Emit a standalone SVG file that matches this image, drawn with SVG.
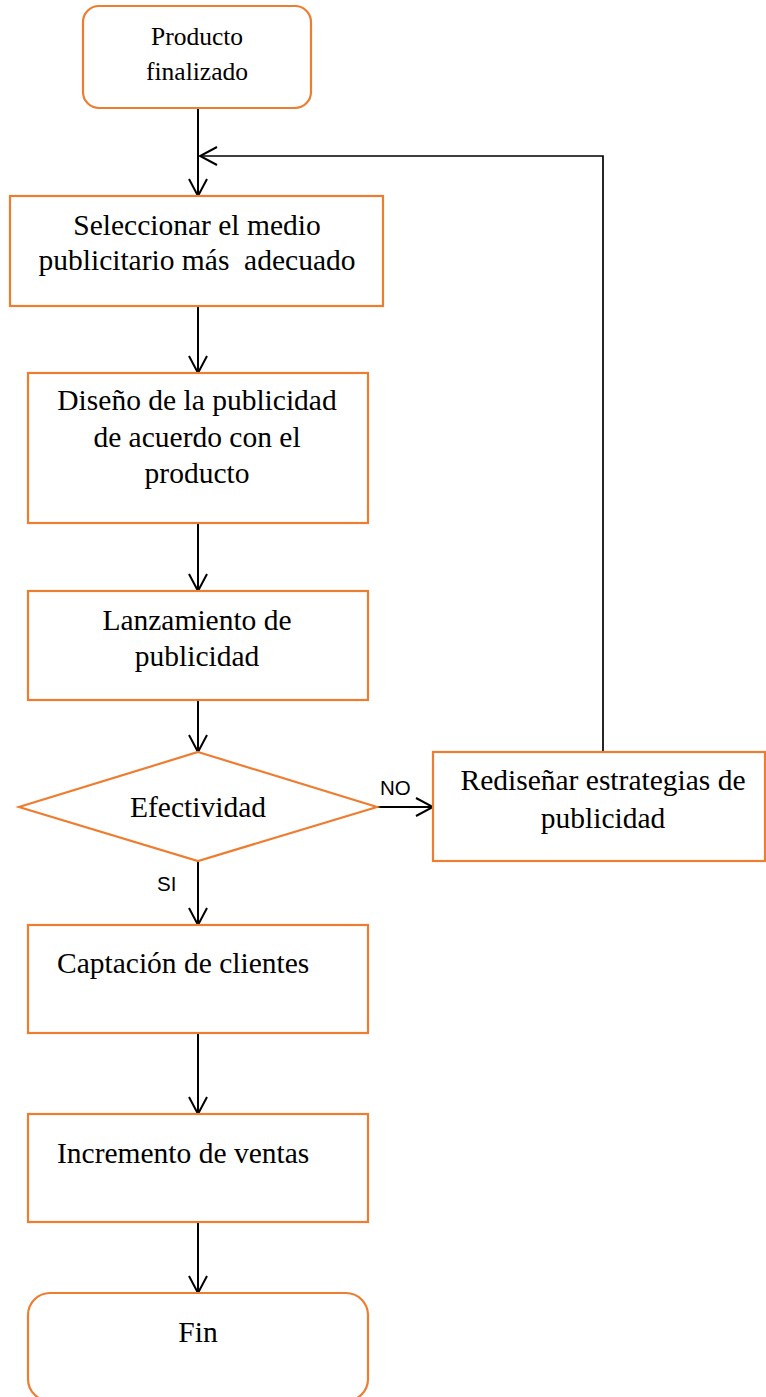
<svg xmlns="http://www.w3.org/2000/svg" width="766" height="1397" viewBox="0 0 766 1397">
<defs>
<style>
.box{fill:#fff;stroke:#ED7D31;stroke-width:2.2}
.t{font-family:"Liberation Serif","Times New Roman",serif;font-size:29.5px;fill:#000;text-anchor:middle}
.ts{font-family:"Liberation Serif","Times New Roman",serif;font-size:29.5px;fill:#000}
.lbl{font-family:"Liberation Sans",Arial,sans-serif;font-size:20.5px;fill:#000}
.c{fill:none;stroke:#000;stroke-width:2}
</style>
<marker id="arr" viewBox="0 0 20 20" markerWidth="20" markerHeight="20" refX="18" refY="10" orient="auto" markerUnits="userSpaceOnUse">
<path d="M1,1 L18,10 L1,19" fill="none" stroke="#000" stroke-width="2"/>
</marker>
</defs>
<rect width="766" height="1397" fill="#fff"/>
<g id="connectors">
<line class="c" x1="198" y1="108" x2="198" y2="196" marker-end="url(#arr)"/>
<polyline class="c" points="603,752 603,156 200,156" marker-end="url(#arr)" style="stroke-width:1.7"/>
<line class="c" x1="198" y1="306" x2="198" y2="373" marker-end="url(#arr)"/>
<line class="c" x1="198" y1="523" x2="198" y2="591" marker-end="url(#arr)"/>
<line class="c" x1="198" y1="700" x2="198" y2="752" marker-end="url(#arr)"/>
<line class="c" x1="377" y1="807" x2="433" y2="807" marker-end="url(#arr)"/>
<line class="c" x1="198" y1="861" x2="198" y2="925" marker-end="url(#arr)"/>
<line class="c" x1="198" y1="1033" x2="198" y2="1114" marker-end="url(#arr)"/>
<line class="c" x1="198" y1="1222" x2="198" y2="1293" marker-end="url(#arr)"/>
<text class="lbl" x="380" y="795">NO</text>
<text class="lbl" x="157" y="891">SI</text>
</g>
<g id="n1">
<rect class="box" x="83" y="6" width="228" height="102" rx="16"/>
<text class="t" x="197" y="45" style="font-size:25.5px">Producto</text>
<text class="t" x="197" y="80" style="font-size:25.5px">finalizado</text>
</g>
<g id="n2">
<rect class="box" x="10" y="196" width="373" height="110"/>
<text class="t" x="197" y="235">Seleccionar el medio</text>
<text class="t" x="197" y="270" style="white-space:pre">publicitario más  adecuado</text>
</g>
<g id="n3">
<rect class="box" x="28" y="373" width="340" height="150"/>
<text class="t" x="197" y="410">Diseño de la publicidad</text>
<text class="t" x="197" y="447">de acuerdo con el</text>
<text class="t" x="197" y="483">producto</text>
</g>
<g id="n4">
<rect class="box" x="28" y="591" width="340" height="109"/>
<text class="t" x="197" y="630">Lanzamiento de</text>
<text class="t" x="197" y="666">publicidad</text>
</g>
<g id="n5">
<polygon class="box" points="198,752 377,807 198,861 19,807"/>
<text class="t" x="198" y="817">Efectividad</text>
</g>
<g id="n6">
<rect class="box" x="433" y="752" width="332" height="109"/>
<text class="t" x="603" y="790">Rediseñar estrategias de</text>
<text class="t" x="603" y="828">publicidad</text>
</g>
<g id="n7">
<rect class="box" x="28" y="925" width="340" height="108"/>
<text class="ts" x="57" y="973">Captación de clientes</text>
</g>
<g id="n8">
<rect class="box" x="28" y="1114" width="340" height="108"/>
<text class="ts" x="57" y="1163">Incremento de ventas</text>
</g>
<g id="n9">
<rect class="box" x="28" y="1293" width="340" height="108" rx="22"/>
<text class="t" x="198" y="1342">Fin</text>
</g>
</svg>
